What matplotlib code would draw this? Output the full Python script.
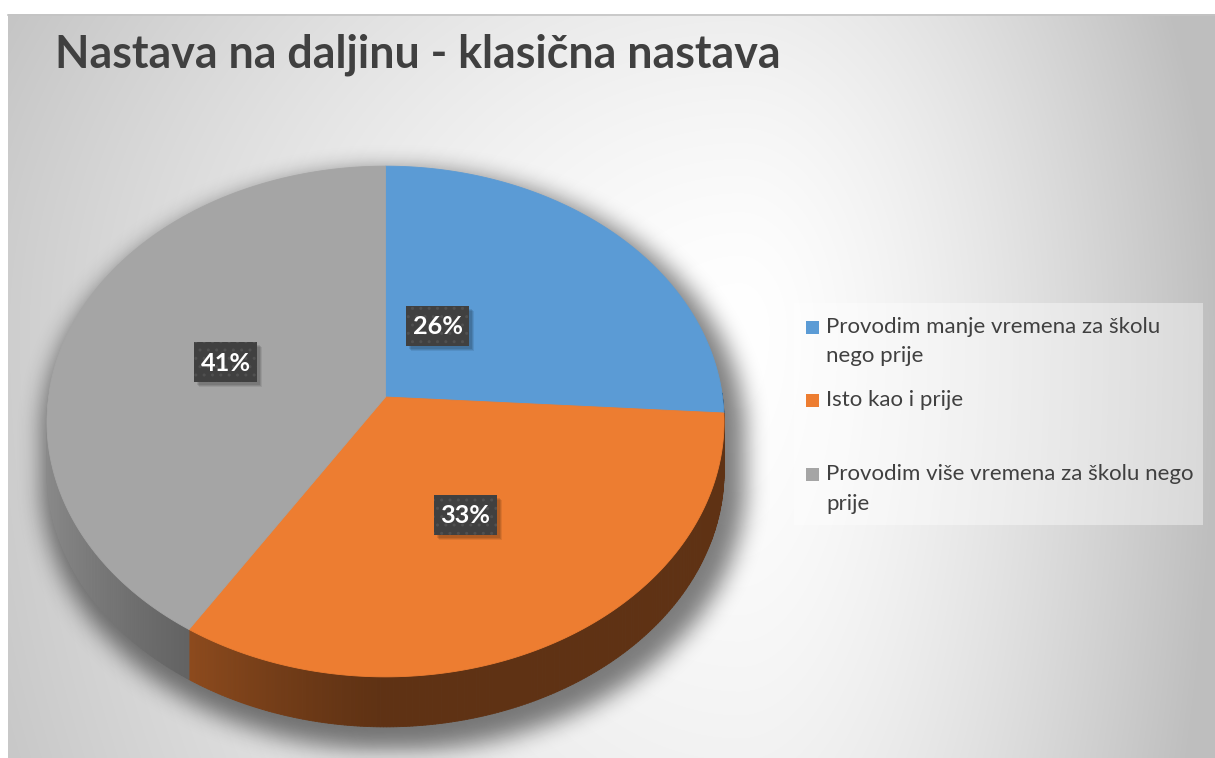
import numpy as np
import matplotlib
matplotlib.use("Agg")
import matplotlib.pyplot as plt
from matplotlib.patches import Polygon, Rectangle
from matplotlib.collections import PolyCollection
from matplotlib.path import Path
import textwrap

# ---------------- data ----------------
title = "Nastava na daljinu - klasična nastava"
categories = [
    "Provodim manje vremena za školu nego prije",
    "Isto kao i prije",
    "Provodim više vremena za školu nego prije",
]
values = [26, 33, 41]
colors = ["#5B9BD5", "#ED7D31", "#A5A5A5"]

# ---------------- figure ----------------
W, H = 1215, 758
fig = plt.figure(figsize=(W / 100, H / 100), dpi=100)
fig.patch.set_facecolor("white")
ax = fig.add_axes([0, 0, 1, 1])
ax.set_xlim(0, W)
ax.set_ylim(H, 0)
ax.axis("off")
FONT = ["Lato", "DejaVu Sans"]

# background gradient (radial, white near centre-right)
yy, xx = np.mgrid[0:H, 0:W] + 0.5
cx_bg, cy_bg = 740, 330
dx = xx - cx_bg
dy = yy - cy_bg
sx = np.where(dx < 0, 700.0, 380.0)
sy = np.where(dy < 0, 600.0, 1000.0)
t = np.sqrt((dx / sx) ** 2 + (dy / sy) ** 2)
val = 1 - (46 / 255) * np.clip(t, 0, 1.25) ** 1.5
val = np.clip(val, 0.74, 1)
frame = (xx >= 8) & (yy >= 14)
val = np.where(frame, val, 1.0)
bg = np.dstack([val, val, val])
ax.imshow(bg, extent=[0, W, H, 0], zorder=0, interpolation="bilinear")
ax.plot([8, W], [14.5, 14.5], color="#c4c4c4", lw=1.2, zorder=0.5)

# ---------------- pie geometry ----------------
cx, cy = 385.5, 397.0
A, B, P = 337.0, 253.0, 0.096
depth = 50.0


def proj(theta, r=1.0):
    u = r * np.cos(theta)
    v = r * np.sin(theta)
    d = 1 + P * v
    return cx + A * u / d, cy - B * v / d


vals = np.array(values, dtype=float)
frac = vals / vals.sum()
bounds = np.deg2rad(90 - 360 * np.concatenate([[0], np.cumsum(frac)]))

# shadow
step = 2
gy, gx = np.mgrid[0:H:step, 0:W:step] + 0.5
pts = np.column_stack([gx.ravel(), gy.ravel()])
th = np.linspace(0, 2 * np.pi, 721)
ox, oy = proj(th)
sc = 1.04
ox_s = cx + (ox - cx) * sc + 8
oy_s = cy + (oy - cy) * sc + 12
outline = Path(np.column_stack([ox_s, oy_s]))
mask = np.zeros(len(pts), bool)
for s in np.linspace(0, depth, 8):
    mask |= outline.contains_points(pts - np.array([0, s]))
mask = mask.reshape(gx.shape).astype(float)


def box_blur(a, r, axis):
    pad = [(0, 0), (0, 0)]
    pad[axis] = (r + 1, r)
    c = np.cumsum(np.pad(a, pad), axis=axis)
    n = a.shape[axis]
    if axis == 0:
        return (c[2 * r + 1:2 * r + 1 + n] - c[:n]) / (2 * r + 1)
    return (c[:, 2 * r + 1:2 * r + 1 + n] - c[:, :n]) / (2 * r + 1)


for _ in range(3):
    mask = box_blur(mask, 5, 0)
    mask = box_blur(mask, 5, 1)
shadow = np.zeros(mask.shape + (4,))
shadow[..., 3] = 0.5 * mask
ax.imshow(shadow, extent=[0, W, H, 0], zorder=1, interpolation="bilinear")

# side walls
quads, qcols = [], []
for i in range(len(vals)):
    a0, a1 = bounds[i], bounds[i + 1]
    n = max(4, int(abs(a0 - a1) / np.deg2rad(0.5)))
    ts = np.linspace(a0, a1, n + 1)
    base = np.array(matplotlib.colors.to_rgb(colors[i]))
    for k in range(n):
        ta, tb = ts[k], ts[k + 1]
        tm = 0.5 * (ta + tb)
        if np.sin(tm) > 0.02:
            continue
        xa, ya = proj(ta)
        xb, yb = proj(tb)
        quads.append([(xa, ya), (xb, yb), (xb, yb + depth), (xa, ya + depth)])
        f = 0.40 + 0.44 * max(0.0, -np.cos(tm)) ** 1.3
        qcols.append(np.clip(base * f, 0, 1))
pc = PolyCollection(quads, facecolors=qcols, edgecolors=qcols, linewidths=0.6, zorder=2)
ax.add_collection(pc)

# top faces
for i in range(len(vals)):
    ts = np.linspace(bounds[i], bounds[i + 1], 300)
    px, py = proj(ts)
    poly = np.column_stack([np.concatenate([[cx], px]), np.concatenate([[cy], py])])
    ax.add_patch(Polygon(poly, closed=True, facecolor=colors[i], edgecolor=colors[i],
                         lw=0.6, zorder=3))

# ---------------- text helpers ----------------
renderer = fig.canvas.get_renderer()


def fit_size(text, target_px, weight="normal", start=20):
    tt = ax.text(0, 0, text, fontsize=start, family=FONT, weight=weight)
    w = tt.get_window_extent(renderer=renderer).width
    tt.remove()
    return start * target_px / w


# data labels
lab_r = [0.33, 0.5, 0.5]
lab_da = [18, 0, 0]
lab_fs = fit_size("26%", 50, "bold")
for i in range(len(vals)):
    mid = 0.5 * (bounds[i] + bounds[i + 1]) + np.deg2rad(lab_da[i])
    lx, ly = proj(mid, lab_r[i])
    bw, bh = 63, 40
    for k, a in enumerate([0.10, 0.10, 0.08]):
        ax.add_patch(Rectangle((lx - bw / 2 + 3 + k, ly - bh / 2 + 3 + k), bw, bh,
                               facecolor="black", alpha=a, lw=0, zorder=4))
    ax.add_patch(Rectangle((lx - bw / 2, ly - bh / 2), bw, bh, facecolor="#404040",
                           edgecolor="#505050", hatch="..", lw=0, zorder=5))
    ax.text(lx, ly + 1, f"{values[i]}%", color="white", fontsize=lab_fs, weight="bold",
            family=FONT, ha="center", va="center", zorder=6)

# title
tfs = fit_size(title, 725, "bold")
ax.text(55, 67, title, fontsize=tfs, weight="bold", family=FONT, color="#404040",
        ha="left", va="baseline", zorder=6)

# legend
ax.add_patch(Rectangle((794, 303), 409, 222, facecolor="white", alpha=0.4, lw=0, zorder=4))
lfs = fit_size("Provodim manje vremena za školu", 334)
for i, cat in enumerate(categories):
    y0 = 327 + i * 73.5
    ax.add_patch(Rectangle((806, y0 - 6.5), 13, 13, facecolor=colors[i], lw=0, zorder=5))
    for j, line in enumerate(textwrap.wrap(cat, 35)):
        ax.text(826, y0 + j * 29.5, line, fontsize=lfs, family=FONT, color="#404040",
                ha="left", va="center", zorder=6)

fig.savefig("out.png", dpi=100, facecolor="white")
